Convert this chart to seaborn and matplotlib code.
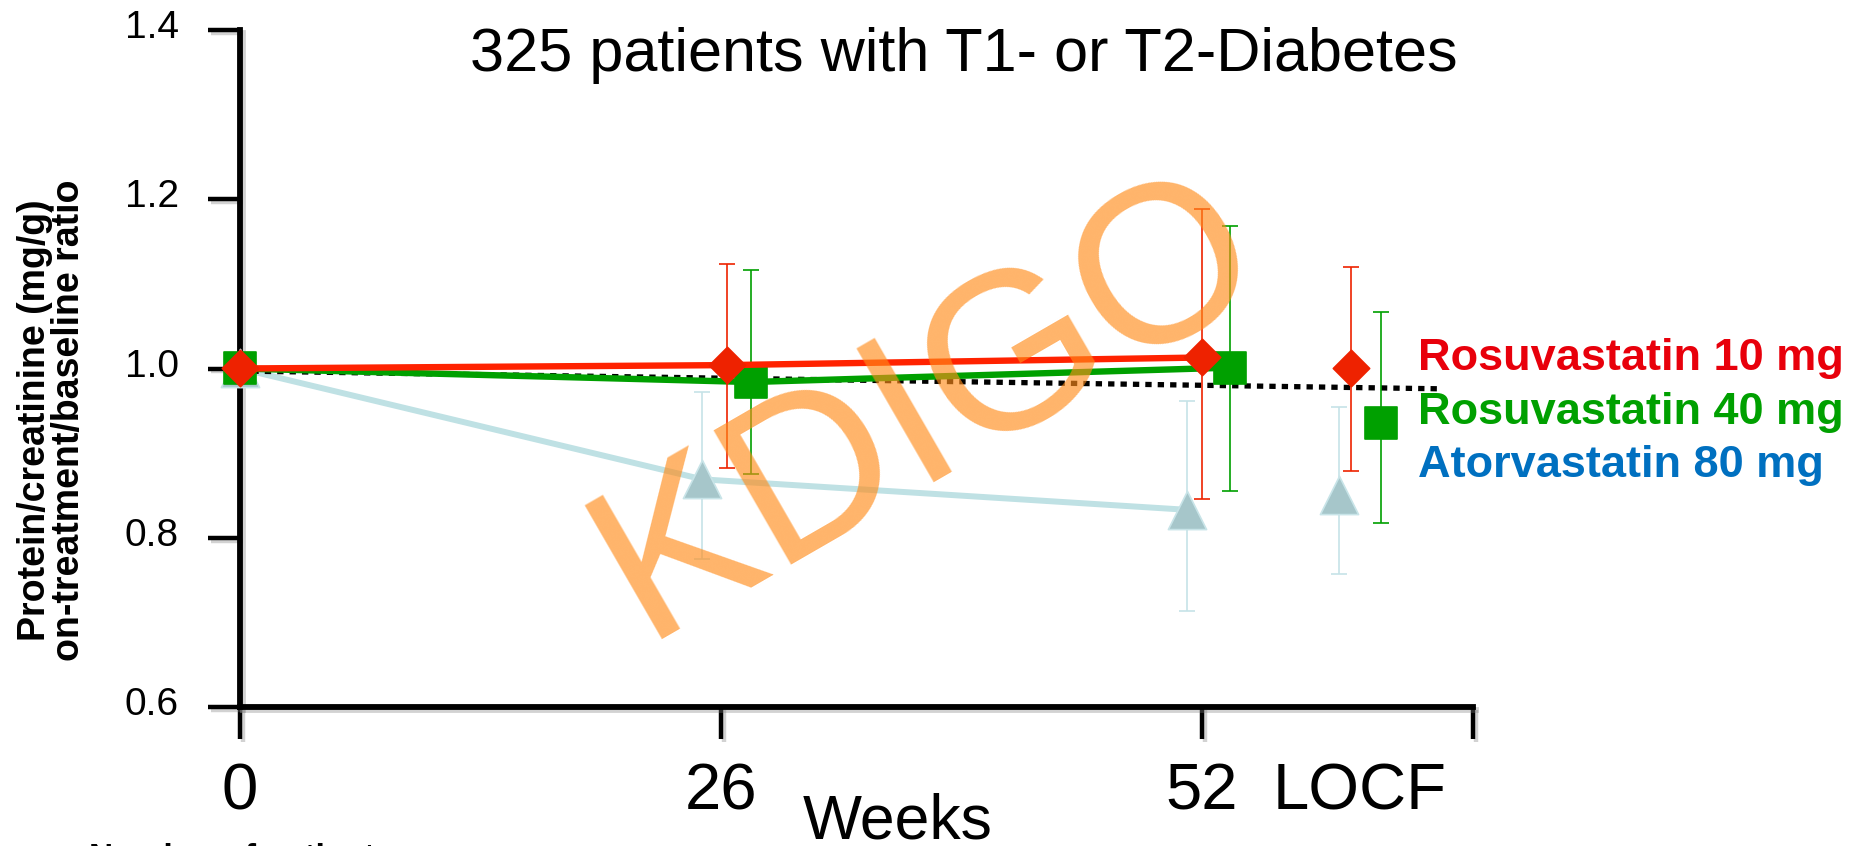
import numpy as np
import pandas as pd
import matplotlib
matplotlib.use("Agg")
import matplotlib.pyplot as plt
import matplotlib.patheffects as pe
from matplotlib.transforms import ScaledTranslation
import seaborn as sns

# ---------------- data ----------------
week_labels = ["0", "26", "52", "LOCF"]
week_pos = [0, 26, 52, 60.5]

rosu10_mean = [1.000, 1.004, 1.013, 1.000]
rosu10_low = [1.000, 0.883, 0.846, 0.879]
rosu10_high = [1.000, 1.124, 1.188, 1.120]

rosu40_mean = [1.000, 0.984, 1.001, 0.936]
rosu40_low = [1.000, 0.875, 0.855, 0.818]
rosu40_high = [1.000, 1.116, 1.168, 1.067]

ator80_mean = [1.000, 0.869, 0.833, 0.850]
ator80_low = [1.000, 0.775, 0.713, 0.757]
ator80_high = [1.000, 0.972, 0.962, 0.954]

ref_x = [0, 64.9]
ref_y = [0.997, 0.976]

series_names = ["Rosuvastatin 10 mg", "Rosuvastatin 40 mg", "Atorvastatin 80 mg"]
y_ticks = [0.6, 0.8, 1.0, 1.2, 1.4]
y_tick_labels = ["0.6", "0.8", "1.0", "1.2", "1.4"]

# ---------------- style ----------------
DODGE = {
    "Rosuvastatin 10 mg": [0, 0.3, 0.0, -0.45],
    "Rosuvastatin 40 mg": [0, 1.6, 1.5, 1.2],
    "Atorvastatin 80 mg": [0, -1.0, -0.8, -1.1],
}
LINE_COL = {"Rosuvastatin 10 mg": "#FF2200", "Rosuvastatin 40 mg": "#00A000",
            "Atorvastatin 80 mg": "#BFE1E4"}
MARK_COL = {"Rosuvastatin 10 mg": "#EE2200", "Rosuvastatin 40 mg": "#00A000",
            "Atorvastatin 80 mg": "#A6C6CA"}
ERR_COL = {"Rosuvastatin 10 mg": "#EE2200", "Rosuvastatin 40 mg": "#00A000",
           "Atorvastatin 80 mg": "#C6E3E7"}
TEXT_COL = {"Rosuvastatin 10 mg": "#E8000B", "Rosuvastatin 40 mg": "#00A000",
            "Atorvastatin 80 mg": "#0070C0"}
MARKER = {"Rosuvastatin 10 mg": "D", "Rosuvastatin 40 mg": "s", "Atorvastatin 80 mg": "^"}
MSIZE = {"Rosuvastatin 10 mg": 18.5 ** 2, "Rosuvastatin 40 mg": 23 ** 2, "Atorvastatin 80 mg": 27.5 ** 2}
ZBASE = {"Atorvastatin 80 mg": 3, "Rosuvastatin 40 mg": 5, "Rosuvastatin 10 mg": 7}
LW = {"Rosuvastatin 10 mg": 4.6, "Rosuvastatin 40 mg": 4.6, "Atorvastatin 80 mg": 4.3}

sns.set_style("white")
plt.rcParams["font.family"] = ["Liberation Sans", "DejaVu Sans"]
plt.rcParams["text.color"] = "black"
plt.rcParams["xtick.color"] = "black"
plt.rcParams["ytick.color"] = "black"
plt.rcParams["axes.labelcolor"] = "black"

W, H = 1854, 846
fig = plt.figure(figsize=(W / 100, H / 100), dpi=100)
ax = fig.add_axes([240 / W, (H - 707) / H, 1233 / W, 677 / H])

means = {"Rosuvastatin 10 mg": rosu10_mean, "Rosuvastatin 40 mg": rosu40_mean,
         "Atorvastatin 80 mg": ator80_mean}
lows = {"Rosuvastatin 10 mg": rosu10_low, "Rosuvastatin 40 mg": rosu40_low,
        "Atorvastatin 80 mg": ator80_low}
highs = {"Rosuvastatin 10 mg": rosu10_high, "Rosuvastatin 40 mg": rosu40_high,
         "Atorvastatin 80 mg": ator80_high}

rows = []
for name in series_names:
    for i, wk in enumerate(week_pos):
        rows.append(dict(series=name, point=week_labels[i],
                         x=wk + DODGE[name][i], y=means[name][i],
                         low=lows[name][i], high=highs[name][i]))
df = pd.DataFrame(rows)

# reference dotted line
ax.plot(ref_x, ref_y, color="black", lw=3.8, linestyle=(0, (1.2, 1.15)),
        dash_capstyle="butt", zorder=4, clip_on=False)

for name in ["Atorvastatin 80 mg", "Rosuvastatin 40 mg", "Rosuvastatin 10 mg"]:
    d = df[df.series == name]
    dl = d[d.point != "LOCF"]
    sns.lineplot(data=dl, x="x", y="y", color=LINE_COL[name], lw=LW[name],
                 sort=False, estimator=None, ax=ax, zorder=ZBASE[name],
                 clip_on=False, legend=False)
    de = d[d.point != "0"]
    ax.errorbar(de["x"], de["y"], yerr=[de["y"] - de["low"], de["high"] - de["y"]],
                fmt="none", ecolor=ERR_COL[name], elinewidth=1.2, capsize=5.5,
                capthick=1.2, zorder=ZBASE[name] - 0.5, clip_on=False)
    edge = "#C8E4E8" if name == "Atorvastatin 80 mg" else MARK_COL[name]
    sns.scatterplot(data=d, x="x", y="y", marker=MARKER[name], s=MSIZE[name],
                    color=MARK_COL[name], edgecolor=edge, linewidth=1.2,
                    ax=ax, zorder=ZBASE[name] + 0.5, clip_on=False, legend=False)

ax.set_xlim(0, 66.65)
ax.set_ylim(0.6, 1.4)
ax.set_yticks(y_ticks, y_tick_labels)
ax.set_xticks([0, 26, 52, 66.65], ["0", "26", "52", ""])
ax.set_xticks([60.5], ["LOCF"], minor=True)
ax.set_xlabel("")
ax.set_ylabel("")
shadow = [pe.SimpleLineShadow(offset=(2, -2), shadow_color="gray", alpha=0.35), pe.Normal()]
for s in ["top", "right"]:
    ax.spines[s].set_visible(False)
for s in ["left", "bottom"]:
    ax.spines[s].set_linewidth(4.2)
    ax.spines[s].set_color("black")
    ax.spines[s].set_path_effects(shadow)
ax.tick_params(axis="both", which="major", direction="out", length=23, width=3.2,
               color="black", bottom=True, left=True)
ax.tick_params(axis="y", labelsize=28, pad=21)
ax.tick_params(axis="x", which="major", labelsize=47, pad=17)
ax.tick_params(axis="x", which="minor", length=0, labelsize=47, pad=40, bottom=True)
for t in ax.xaxis.get_major_ticks() + ax.yaxis.get_major_ticks():
    t.tick1line.set_path_effects(shadow)
for lab in ax.get_yticklabels():
    lab.set_transform(lab.get_transform() + ScaledTranslation(0, 6 / 100, fig.dpi_scale_trans))

# titles and labels
fig.text(964 / W, 1 - 71 / H, "325 patients with T1- or T2-Diabetes",
         ha="center", va="baseline", fontsize=44)
fig.text(52 / W, 1 - 420 / H, "Protein/creatinine (mg/g)\non-treatment/baseline ratio",
         rotation=90, ha="center", va="center", fontsize=27, fontweight="bold",
         linespacing=0.95, multialignment="center")
fig.text(898 / W, 1 - 838 / H, "Weeks", ha="center", va="baseline", fontsize=45)
fig.text(89 / W, 1 - 867 / H, "Number of patients", ha="left", va="baseline",
         fontsize=24, fontweight="bold")

# series labels
for name, yb in zip(series_names, [370, 424, 477]):
    fig.text(1418.5 / W, 1 - yb / H, name, ha="left", va="baseline", fontsize=32.5,
             fontweight="bold", color=TEXT_COL[name])

# watermark
fig.text(957 / W, 1 - 458 / H, "KDIGO", rotation=30, rotation_mode="anchor",
         ha="center", va="baseline", fontsize=162, color="#FF8C1A", alpha=0.65,
         zorder=10)

fig.savefig("out.png", dpi=100)
